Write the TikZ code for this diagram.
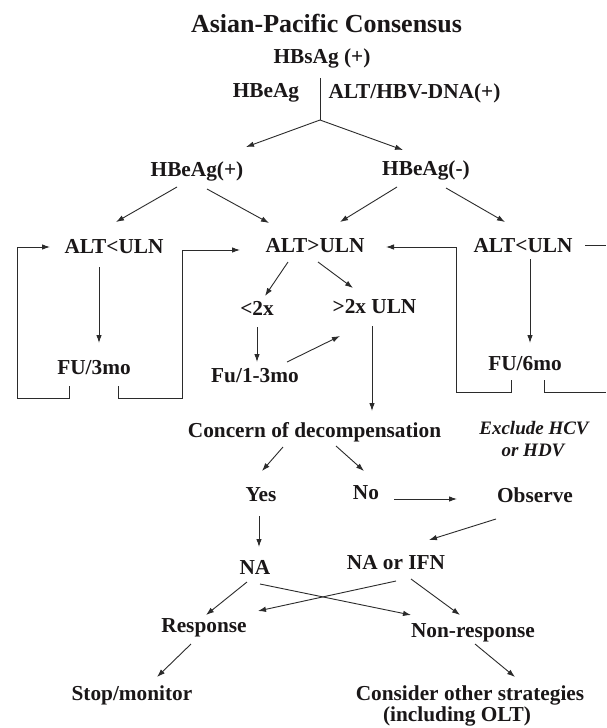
\documentclass[tikz,border=0pt]{standalone}
\usepackage{fontspec}
\setmainfont{Liberation Serif}
\usetikzlibrary{arrows.meta}
\definecolor{ink}{HTML}{1A1718}
\definecolor{wire}{HTML}{2B2B2B}
\begin{document}
\begin{tikzpicture}[x=1pt,y=-1pt,
  lbl/.style={inner sep=0pt, anchor=base, text=ink, font=\fontsize{21.3}{24}\selectfont\bfseries},
  ttl/.style={lbl, font=\fontsize{26}{30}\selectfont\bfseries},
  note/.style={lbl, font=\fontsize{19}{22}\selectfont\bfseries\itshape},
  wirestyle/.style={draw=wire, line width=0.9pt},
  arr/.style={wirestyle, -{Latex[length=8pt,width=5.5pt]}},
]
\fill[white] (0,0) rectangle (606,728);
\useasboundingbox (0,0) rectangle (606,728);

% nodes
\node[ttl] (title) at (326.5,32) {Asian-Pacific Consensus};
\node[lbl] (hbs) at (322,63) {HBsAg (+)};
\node[lbl] (hbe) at (266,97) {HBeAg};
\node[lbl] (dna) at (414.5,98) {ALT/HBV-DNA(+)};
\node[lbl] (hbep) at (197,176) {HBeAg(+)};
\node[lbl] (hben) at (426,175) {HBeAg(-)};
\node[lbl] (altl) at (114,253) {ALT<ULN};
\node[lbl] (altg) at (315,252) {ALT>ULN};
\node[lbl] (altr) at (523,252) {ALT<ULN};
\node[lbl] (lt2) at (257,315) {<2x};
\node[lbl] (gt2) at (374.5,313) {>2x ULN};
\node[lbl] (fu3) at (94,374) {FU/3mo};
\node[lbl] (fu13) at (255,382) {Fu/1-3mo};
\node[lbl] (fu6) at (525,370) {FU/6mo};
\node[lbl] (conc) at (314.5,437) {Concern of decompensation};
\node[note] (excl) at (534,434) {Exclude HCV};
\node[note] (excl2) at (533,456) {or HDV};
\node[lbl] (yes) at (261,501) {Yes};
\node[lbl] (no) at (366,499) {No};
\node[lbl] (obs) at (535,502) {Observe};
\node[lbl] (na) at (255,574) {NA};
\node[lbl] (naifn) at (396,569) {NA or IFN};
\node[lbl] (resp) at (204,632) {Response};
\node[lbl] (nonr) at (473,637) {Non-response};
\node[lbl] (stop) at (132,700) {Stop/monitor};
\node[lbl] (cons) at (470,700) {Consider other strategies};
\node[lbl] (cons2) at (457,721) {(including OLT)};

% split under HBsAg
\coordinate (j0) at ([shift={(-2,15)}]hbs.base);
\coordinate (j1) at ([shift={(-2,57)}]hbs.base);
\draw[wirestyle] (j0) -- (j1);
\draw[arr] (j1) -- ([shift={(49,-29)}]hbep.base);
\draw[arr] (j1) -- ([shift={(-23,-25)}]hben.base);

% HBeAg(+/-) branches
\draw[arr] ([shift={(-20,11)}]hbep.base) -- ([shift={(2,-31)}]altl.base);
\draw[arr] ([shift={(10,13)}]hbep.base) -- ([shift={(-46,-29)}]altg.base);
\draw[arr] ([shift={(-29,12)}]hben.base) -- ([shift={(25,-30)}]altg.base);
\draw[arr] ([shift={(20,13)}]hben.base) -- ([shift={(-18,-30)}]altr.base);

% left loop
\draw[arr] ([shift={(-15,14)}]altl.base) -- ([shift={(5,-31)}]fu3.base);
\draw[arr] ([shift={(-25,12)}]fu3.base) -- ++(0,12) -| ([shift={(-97,-6)}]altl.base) -- ([shift={(-64,-6)}]altl.base);
\draw[arr] ([shift={(24,12)}]fu3.base) -- ++(0,12) -| ([shift={(-133,-2)}]altg.base) -- ([shift={(-75,-2)}]altg.base);

% ALT>ULN split
\draw[arr] ([shift={(-27,10)}]altg.base) -- ([shift={(8,-19)}]lt2.base);
\draw[arr] ([shift={(3,10)}]altg.base) -- ([shift={(-21.5,-25)}]gt2.base);
\draw[arr] ([shift={(0,12)}]lt2.base) -- ([shift={(2,-20)}]fu13.base);
\draw[arr] ([shift={(32,-20)}]fu13.base) -- ([shift={(-34.5,23)}]gt2.base);
\draw[arr] ([shift={(-2.5,13)}]gt2.base) -- ([shift={(57.5,-26)}]conc.base);

% right loop
\draw[arr] ([shift={(7,7)}]altr.base) -- ([shift={(5,-27)}]fu6.base);
\draw[arr] ([shift={(-14,10)}]fu6.base) -- ++(0,12) -| ([shift={(141,-5)}]altg.base) -- ([shift={(71,-5)}]altg.base);
\coordinate (edgeA) at (606,392);
\coordinate (edgeB) at (606,245);
\draw[wirestyle] ([shift={(19,10)}]fu6.base) -- ++(0,12) -- (edgeA);
\draw[wirestyle] ([shift={(62,-7)}]altr.base) -- (edgeB);

% decompensation
\draw[arr] ([shift={(-31.5,10)}]conc.base) -- ([shift={(1,-30)}]yes.base);
\draw[arr] ([shift={(21.5,9)}]conc.base) -- ([shift={(-2,-28)}]no.base);
\draw[arr] ([shift={(-2,15)}]yes.base) -- ([shift={(4,-27)}]na.base);
\draw[arr] ([shift={(28,0)}]no.base) -- ([shift={(-78,-3)}]obs.base);
\draw[arr] ([shift={(-39,17)}]obs.base) -- ([shift={(33,-29)}]naifn.base);

% treatment outcomes
\draw[arr] ([shift={(-8,8)}]na.base) -- ([shift={(2,-17)}]resp.base);
\draw[arr] ([shift={(5,10)}]na.base) -- ([shift={(-62,-22)}]nonr.base);
\draw[arr] ([shift={(0,12)}]naifn.base) -- ([shift={(54,-21)}]resp.base);
\draw[arr] ([shift={(15,10)}]naifn.base) -- ([shift={(-13,-22)}]nonr.base);
\draw[arr] ([shift={(-13,12)}]resp.base) -- ([shift={(25,-23)}]stop.base);
\draw[arr] ([shift={(2,7)}]nonr.base) -- ([shift={(45,-23)}]cons.base);
\end{tikzpicture}
\end{document}
